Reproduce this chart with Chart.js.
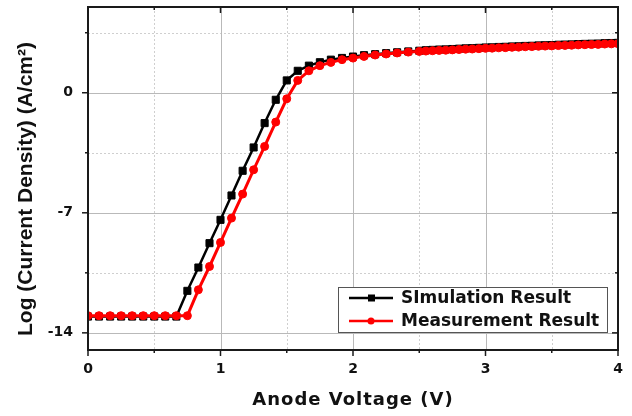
<!DOCTYPE html>
<html>
<head>
<meta charset="utf-8">
<script src="https://cdn.jsdelivr.net/npm/chart.js@4.4.1/dist/chart.umd.min.js"></script>
<style>
  html, body { margin: 0; padding: 0; background: #fff; }
  #wrap { width: 632px; height: 416px; position: relative; }
</style>
</head>
<body>
<div id="wrap"><canvas id="ivChart"></canvas></div>
<script>
// ========== DATA ==========
// anode voltage (V)
var voltage = [0, 0.083, 0.167, 0.25, 0.333, 0.417, 0.5, 0.583, 0.667, 0.75,
  0.833, 0.917, 1.0, 1.083, 1.167, 1.25, 1.333, 1.417, 1.5, 1.583,
  1.667, 1.75, 1.833, 1.917, 2.0, 2.083, 2.167, 2.25, 2.333, 2.417, 2.5,
  2.55, 2.6, 2.65, 2.7, 2.75, 2.8, 2.85, 2.9, 2.95, 3.0,
  3.05, 3.1, 3.15, 3.2, 3.25, 3.3, 3.35, 3.4, 3.45, 3.5,
  3.55, 3.6, 3.65, 3.7, 3.75, 3.8, 3.85, 3.9, 3.95, 4.0];

// log current density (A/cm2)
var simulation = [-13.05, -13.05, -13.05, -13.05, -13.05, -13.05, -13.05, -13.05, -13.05, -11.55,
  -10.19, -8.77, -7.41, -5.99, -4.55, -3.19, -1.77, -0.41, 0.72, 1.28,
  1.58, 1.78, 1.93, 2.03, 2.11, 2.19, 2.25, 2.31, 2.36, 2.41, 2.45,
  2.48, 2.50, 2.52, 2.53, 2.55, 2.57, 2.59, 2.60, 2.62, 2.64,
  2.65, 2.67, 2.68, 2.70, 2.71, 2.73, 2.74, 2.76, 2.77, 2.78,
  2.80, 2.81, 2.82, 2.84, 2.85, 2.86, 2.87, 2.89, 2.90, 2.91];

var measurement = [-13.0, -13.0, -13.0, -13.0, -13.0, -13.0, -13.0, -13.0, -13.0, -13.0,
  -11.49, -10.13, -8.73, -7.31, -5.91, -4.49, -3.13, -1.71, -0.35, 0.72,
  1.28, 1.58, 1.77, 1.93, 2.02, 2.12, 2.20, 2.26, 2.32, 2.37, 2.41,
  2.43, 2.45, 2.47, 2.48, 2.50, 2.52, 2.54, 2.55, 2.57, 2.59,
  2.60, 2.62, 2.63, 2.65, 2.66, 2.68, 2.69, 2.71, 2.72, 2.73,
  2.75, 2.76, 2.77, 2.79, 2.80, 2.81, 2.82, 2.84, 2.85, 2.86];

var xMajor = [0, 1, 2, 3, 4];
var xMinor = [0.5, 1.5, 2.5, 3.5];
var yMajor = [-14, -7, 0];
var yMinor = [-10.5, -3.5, 3.5];

var xTitle = "Anode Voltage (V)";
var yTitle = "Log (Current Density) (A/cm\u00B2)";

function toPoints(ys) {
  return voltage.map(function (v, i) { return { x: v, y: ys[i] }; });
}

// ========== FRAME, GRID, TITLES, LEGEND ==========
var framePlugin = {
  id: "frame",
  beforeDatasetsDraw: function (chart) {
    var ctx = chart.ctx, a = chart.chartArea;
    var xs = chart.scales.x, ys = chart.scales.y;
    ctx.save();
    ctx.lineWidth = 1;

    // minor grid, dotted
    ctx.strokeStyle = "#cfcfcf";
    ctx.setLineDash([2, 2]);
    xMinor.forEach(function (v) {
      var px = Math.round(xs.getPixelForValue(v)) + 0.5;
      ctx.beginPath(); ctx.moveTo(px, a.top); ctx.lineTo(px, a.bottom); ctx.stroke();
    });
    yMinor.forEach(function (v) {
      var py = Math.round(ys.getPixelForValue(v)) + 0.5;
      ctx.beginPath(); ctx.moveTo(a.left, py); ctx.lineTo(a.right, py); ctx.stroke();
    });

    // major grid, solid
    ctx.setLineDash([]);
    ctx.strokeStyle = "#b9b9b9";
    xMajor.forEach(function (v) {
      var px = Math.round(xs.getPixelForValue(v)) + 0.5;
      ctx.beginPath(); ctx.moveTo(px, a.top); ctx.lineTo(px, a.bottom); ctx.stroke();
    });
    yMajor.forEach(function (v) {
      var py = Math.round(ys.getPixelForValue(v)) + 0.5;
      ctx.beginPath(); ctx.moveTo(a.left, py); ctx.lineTo(a.right, py); ctx.stroke();
    });
    ctx.restore();
  },
  afterDatasetsDraw: function (chart) {
    var ctx = chart.ctx, a = chart.chartArea;
    var xs = chart.scales.x, ys = chart.scales.y;
    ctx.save();
    ctx.strokeStyle = "#1a1a1a";
    ctx.lineWidth = 2;
    ctx.strokeRect(a.left, a.top, a.right - a.left, a.bottom - a.top);

    // tick marks: out on left/bottom, in on top/right
    ctx.lineWidth = 1.5;
    function xTick(v, len) {
      var px = xs.getPixelForValue(v);
      ctx.beginPath(); ctx.moveTo(px, a.bottom); ctx.lineTo(px, a.bottom + len); ctx.stroke();
      ctx.beginPath(); ctx.moveTo(px, a.top); ctx.lineTo(px, a.top + len); ctx.stroke();
    }
    function yTick(v, len) {
      var py = ys.getPixelForValue(v);
      ctx.beginPath(); ctx.moveTo(a.left, py); ctx.lineTo(a.left - len, py); ctx.stroke();
      ctx.beginPath(); ctx.moveTo(a.right, py); ctx.lineTo(a.right - len, py); ctx.stroke();
    }
    xMajor.forEach(function (v) { xTick(v, 6); });
    xMinor.forEach(function (v) { xTick(v, 3); });
    yMajor.forEach(function (v) { yTick(v, 6); });
    yMinor.forEach(function (v) { yTick(v, 3); });
    ctx.restore();
  },
  afterDraw: function (chart) {
    var ctx = chart.ctx, a = chart.chartArea;
    ctx.save();
    ctx.fillStyle = "#111";

    // x title
    ctx.font = "bold 18px 'DejaVu Sans'";
    ctx.letterSpacing = "1px";
    ctx.textAlign = "center";
    ctx.textBaseline = "alphabetic";
    ctx.fillText(xTitle, (a.left + a.right) / 2, 405);
    ctx.letterSpacing = "0px";

    // y title
    ctx.translate(32, 189);
    ctx.rotate(-Math.PI / 2);
    ctx.font = "bold 21px 'Liberation Sans'";
    ctx.fillText(yTitle, 0, 0);
    ctx.restore();

    // legend box
    ctx.save();
    var bx = 338, by = 287, bw = 269, bh = 45;
    ctx.fillStyle = "#fff";
    ctx.fillRect(bx, by, bw, bh);
    ctx.strokeStyle = "#555";
    ctx.lineWidth = 1;
    ctx.strokeRect(bx + 0.5, by + 0.5, bw, bh);
    ctx.font = "bold 17px 'DejaVu Sans'";
    ctx.textAlign = "left";
    ctx.textBaseline = "middle";
    chart.data.datasets.forEach(function (ds, i) {
      var cy = by + 11 + i * 23;
      ctx.strokeStyle = ds.borderColor;
      ctx.lineWidth = 2.5;
      ctx.beginPath(); ctx.moveTo(bx + 11, cy); ctx.lineTo(bx + 55, cy); ctx.stroke();
      ctx.fillStyle = ds.backgroundColor;
      if (ds.pointStyle === "rect") {
        ctx.fillRect(bx + 30, cy - 3.5, 7, 7);
      } else {
        ctx.beginPath(); ctx.arc(bx + 33, cy, 3.5, 0, Math.PI * 2); ctx.fill();
      }
      ctx.fillStyle = "#111";
      ctx.fillText(ds.label, bx + 63, cy + 1);
    });
    ctx.restore();
  }
};

// ========== CHART ==========
var ivCtx = document.getElementById("ivChart");
new Chart(ivCtx, {
  type: "line",
  data: {
    datasets: [
      {
        label: "SImulation Result",
        data: toPoints(simulation),
        borderColor: "#000000",
        backgroundColor: "#000000",
        borderWidth: 2.5,
        pointStyle: "rect",
        pointRadius: 5,
        pointBorderWidth: 1,
        order: 1,
        clip: 0
      },
      {
        label: "Measurement Result",
        data: toPoints(measurement),
        borderColor: "#ff0000",
        backgroundColor: "#ff0000",
        borderWidth: 3,
        pointStyle: "circle",
        pointRadius: 4,
        pointBorderWidth: 1,
        order: 0,
        clip: 0
      }
    ]
  },
  options: {
    responsive: true,
    maintainAspectRatio: false,
    animation: false,
    layout: { padding: { top: 7, right: 14, left: 0, bottom: 0 } },
    plugins: {
      legend: { display: false },
      tooltip: { enabled: false }
    },
    scales: {
      x: {
        type: "linear",
        min: 0,
        max: 4,
        grid: { display: false, drawTicks: false },
        border: { display: false },
        afterFit: function (s) { s.height = 66; s.paddingLeft = 0; s.paddingRight = 0; },
        afterBuildTicks: function (s) { s.ticks = xMajor.map(function (v) { return { value: v }; }); },
        ticks: {
          padding: 11,
          maxRotation: 0,
          color: "#111",
          font: { family: "'DejaVu Sans'", size: 14, weight: "bold" }
        }
      },
      y: {
        type: "linear",
        min: -15,
        max: 5,
        grid: { display: false, drawTicks: false },
        border: { display: false },
        afterFit: function (s) { s.width = 88; s.paddingTop = 0; s.paddingBottom = 0; },
        afterBuildTicks: function (s) { s.ticks = yMajor.map(function (v) { return { value: v }; }); },
        ticks: {
          padding: 15,
          color: "#111",
          font: { family: "'DejaVu Sans'", size: 14, weight: "bold" }
        }
      }
    }
  },
  plugins: [framePlugin]
});
</script>
</body>
</html>
